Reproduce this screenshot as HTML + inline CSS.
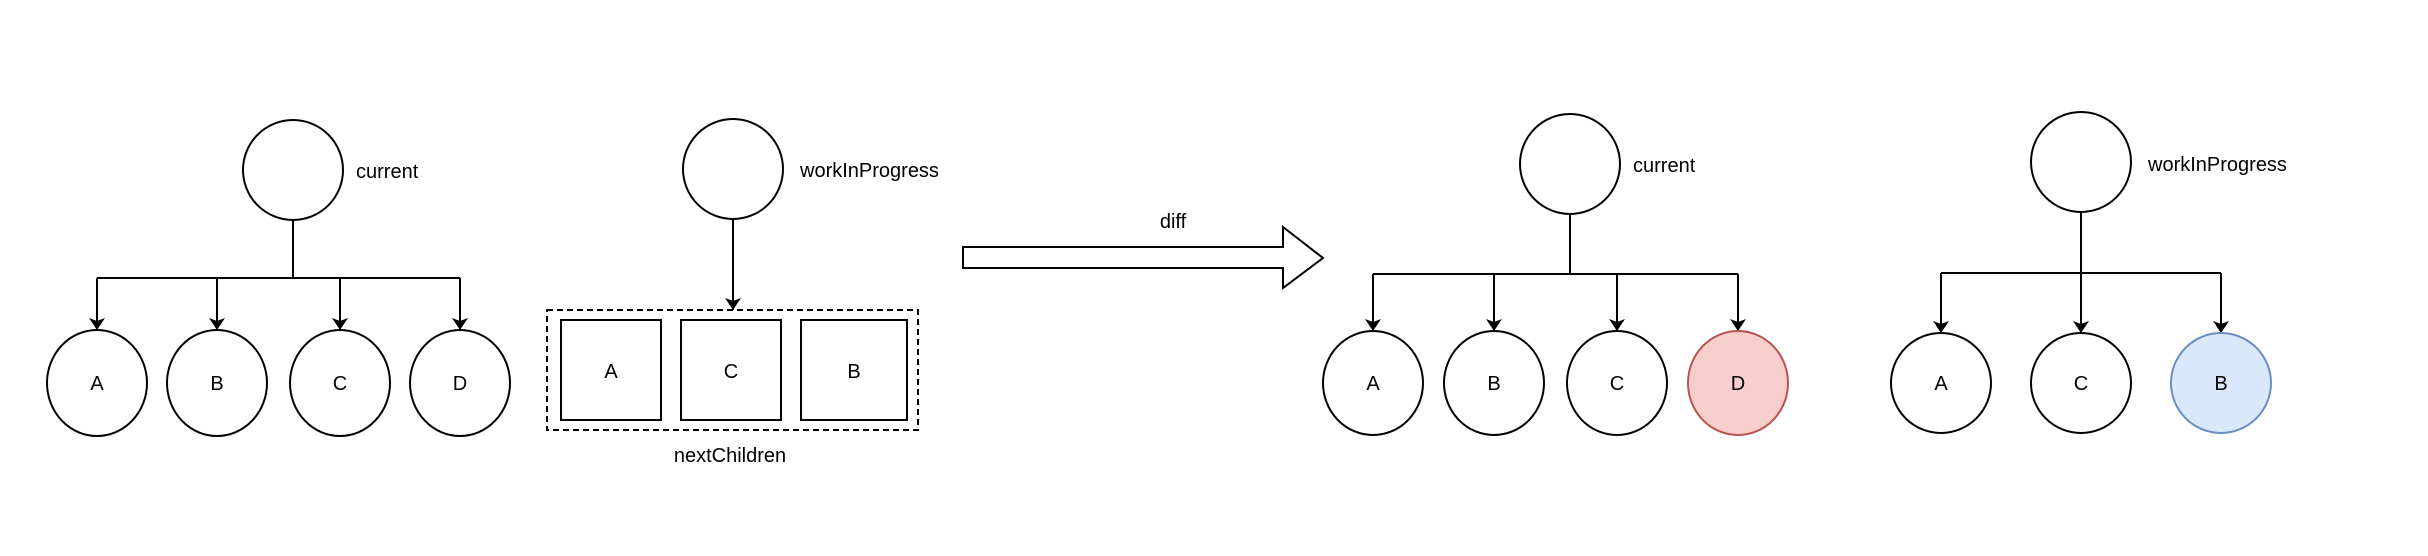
<!DOCTYPE html>
<html><head><meta charset="utf-8"><style>html,body{margin:0;padding:0;background:#fff}svg{display:block}</style></head>
<body>
<svg width="2428" height="556" viewBox="0 0 2428 556" xmlns="http://www.w3.org/2000/svg" font-family="Liberation Sans, Arial, sans-serif" font-size="20">
<defs>
<marker id="a" viewBox="0 0 12 16" refX="12" refY="8" markerWidth="16" markerHeight="16" orient="auto" markerUnits="userSpaceOnUse">
<path d="M0,0 L12,8 L0,16 L3,8 Z" fill="#000"/>
</marker>
</defs>
<g fill="none" stroke="#000" stroke-width="2">
<!-- left current -->
<circle cx="293" cy="170" r="50" fill="#fff"/>
<path d="M293,220 V278 M97,278 H460"/>
<path d="M97,278 V330" marker-end="url(#a)"/>
<path d="M217,278 V330" marker-end="url(#a)"/>
<path d="M340,278 V330" marker-end="url(#a)"/>
<path d="M460,278 V330" marker-end="url(#a)"/>
<ellipse cx="97" cy="383" rx="50" ry="53"/>
<ellipse cx="217" cy="383" rx="50" ry="53"/>
<ellipse cx="340" cy="383" rx="50" ry="53"/>
<ellipse cx="460" cy="383" rx="50" ry="53"/>
<!-- left wip -->
<circle cx="733" cy="169" r="50"/>
<path d="M733,219 V310" marker-end="url(#a)"/>
<rect x="547" y="310" width="371" height="120" stroke-dasharray="6,4"/>
<rect x="561" y="320" width="100" height="100"/>
<rect x="681" y="320" width="100" height="100"/>
<rect x="801" y="320" width="106" height="100"/>
<!-- diff arrow -->
<path d="M963,247 H1283 V227 L1323,258 L1283,288 V268 H963 Z" fill="#fff"/>
<!-- right current -->
<circle cx="1570" cy="164" r="50"/>
<path d="M1570,214 V274 M1373,274 H1738"/>
<path d="M1373,274 V331" marker-end="url(#a)"/>
<path d="M1494,274 V331" marker-end="url(#a)"/>
<path d="M1617,274 V331" marker-end="url(#a)"/>
<path d="M1738,274 V331" marker-end="url(#a)"/>
<ellipse cx="1373" cy="383" rx="50" ry="52"/>
<ellipse cx="1494" cy="383" rx="50" ry="52"/>
<ellipse cx="1617" cy="383" rx="50" ry="52"/>
<ellipse cx="1738" cy="383" rx="50" ry="52" fill="#f8cecc" stroke="#b85450"/>
<!-- right wip -->
<circle cx="2081" cy="162" r="50"/>
<path d="M1941,273 H2221"/>
<path d="M2081,212 V333" marker-end="url(#a)"/>
<path d="M1941,273 V333" marker-end="url(#a)"/>
<path d="M2221,273 V333" marker-end="url(#a)"/>
<circle cx="1941" cy="383" r="50"/>
<circle cx="2081" cy="383" r="50"/>
<circle cx="2221" cy="383" r="50" fill="#dae8fc" stroke="#6c8ebf"/>
</g>
<g fill="#000" text-anchor="middle" dominant-baseline="central">
<text x="97" y="384">A</text><text x="217" y="384">B</text><text x="340" y="384">C</text><text x="460" y="384">D</text>
<text x="611" y="372">A</text><text x="731" y="372">C</text><text x="854" y="372">B</text>
<text x="730" y="456">nextChildren</text>
<text x="1173" y="222">diff</text>
<text x="1373" y="384">A</text><text x="1494" y="384">B</text><text x="1617" y="384">C</text><text x="1738" y="384">D</text>
<text x="1941" y="384">A</text><text x="2081" y="384">C</text><text x="2221" y="384">B</text>
</g>
<g fill="#000" dominant-baseline="central">
<text x="356" y="172">current</text>
<text x="800" y="171">workInProgress</text>
<text x="1633" y="166">current</text>
<text x="2148" y="165">workInProgress</text>
</g>
</svg>
</body></html>
